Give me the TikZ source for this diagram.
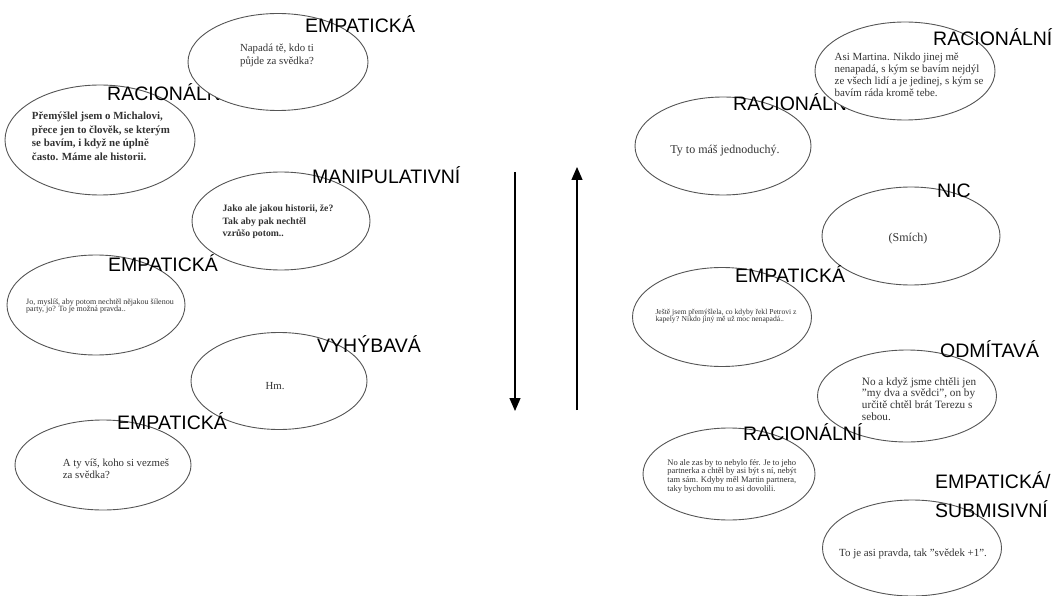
\documentclass[tikz,border=0pt]{standalone}
\usepackage{fontspec}
\setmainfont{Liberation Serif}
\newfontfamily\tagfont{Liberation Sans}
\usetikzlibrary{shapes.geometric,arrows.meta}
\definecolor{bubbleline}{HTML}{555555}
\definecolor{speechgray}{HTML}{333333}
\newcommand{\sz}[2]{\fontsize{#1}{#2}\selectfont}
\newcommand{\dq}{\symbol{34}}

\begin{document}
\begin{tikzpicture}[x=1pt,y=-1pt,
  bubble/.style={ellipse,draw=bubbleline,fill=white,line width=0.9pt,inner sep=0pt},
  speech/.style={text=speechgray,align=left,inner sep=0pt},
  tag/.style={font=\tagfont\sz{19.5}{29},inner sep=0pt,text=black,anchor=base west,align=left},
  flow/.style={line width=1.3pt,-{Triangle[length=13pt,width=11pt]}}]

\useasboundingbox (0,0) rectangle (1060,596);

% ---- left column (read top to bottom) ----
\node[bubble,minimum width=190pt,minimum height=110pt] (l2) at (100,140) {};
\node[speech,font=\bfseries\sz{10.9}{13.5}] (l2t) at (101,136)
  {Přemýšlel jsem o Michalovi,\\přece jen to člověk, se kterým\\se bavím, i když ne úplně\\často. Máme ale historii.};
\node[tag] (l2l) at (107,101) {RACIONÁLNÍ};

\node[bubble,minimum width=180pt,minimum height=97pt] (l1) at (278,62) {};
\node[speech,font=\sz{10.8}{13}] (l1t) at (277,55) {Napadá tě, kdo ti\\půjde za svědka?};
\node[tag] (l1l) at (305,33) {EMPATICKÁ};

\node[bubble,minimum width=178pt,minimum height=98pt] (l3) at (281,221) {};
\node[speech,font=\bfseries\sz{9.7}{12.5}] (l3t) at (278,222)
  {Jako ale jakou historii, že?\\Tak aby pak nechtěl\\vzrůšo potom..};
\node[tag] (l3l) at (312,184) {MANIPULATIVNÍ};

\node[bubble,minimum width=178pt,minimum height=100pt] (l4) at (96,305) {};
\node[speech,font=\sz{8}{7.5}] (l4t) at (100,306)
  {Jo, myslíš, aby potom nechtěl nějakou šílenou\\party, jo? To je možná pravda..};
\node[tag] (l4l) at (108,271) {EMPATICKÁ};

\node[bubble,minimum width=176pt,minimum height=97pt] (l5) at (279,381) {};
\node[speech,font=\sz{10.8}{12}] (l5t) at (275,386) {Hm.};
\node[tag] (l5l) at (317,352) {VYHÝBAVÁ};

\node[bubble,minimum width=176pt,minimum height=90pt] (l6) at (103,465) {};
\node[speech,font=\sz{10.8}{12.5}] (l6t) at (116,469) {A ty víš, koho si vezmeš\\za svědka?};
\node[tag] (l6l) at (117,429) {EMPATICKÁ};

% ---- arrows between the columns ----
\coordinate (dtop) at (515,172);
\coordinate (dbot) at (515,411);
\coordinate (ubot) at (577,410);
\coordinate (utop) at (577,167);
\draw[flow] (dtop) -- (dbot);
\draw[flow] (ubot) -- (utop);

% ---- right column ----
\node[bubble,minimum width=176pt,minimum height=98pt] (r2) at (723,146) {};
\node[speech,font=\sz{12}{13}] (r2t) at (725,151) {Ty to máš jednoduchý.};
\node[tag] (r2l) at (733,111) {RACIONÁLNÍ};

\node[bubble,minimum width=180pt,minimum height=98pt] (r1) at (905,71) {};
\node[speech,font=\sz{10.9}{12}] (r1t) at (909,75)
  {Asi Martina. Nikdo jinej mě\\nenapadá, s kým se bavím nejdýl\\ze všech lidí a je jedinej, s kým se\\bavím ráda kromě tebe.};
\node[tag] (r1l) at (933,46) {RACIONÁLNÍ};

\node[bubble,minimum width=178pt,minimum height=98pt] (r3) at (911,236) {};
\node[speech,font=\sz{12}{13}] (r3t) at (908,239) {(Smích)};
\node[tag] (r3l) at (937,198) {NIC};

\node[bubble,minimum width=179pt,minimum height=99pt] (r4) at (722,317) {};
\node[speech,font=\sz{7.6}{7.2}] (r4t) at (726,316)
  {Ještě jsem přemýšlela, co kdyby řekl Petrovi z\\kapely? Nikdo jiný mě už moc nenapadá..};
\node[tag] (r4l) at (735,282) {EMPATICKÁ};

\node[bubble,minimum width=179pt,minimum height=92pt] (r5) at (907,396) {};
\node[speech,font=\sz{11.2}{11.8}] (r5t) at (919,399)
  {No a když jsme chtěli jen\\\dq my dva a svědci\dq, on by\\určitě chtěl brát Terezu s\\sebou.};
\node[tag] (r5l) at (940,357) {ODMÍTAVÁ};

\node[bubble,minimum width=172pt,minimum height=92pt] (r6) at (729,474) {};
\node[speech,font=\sz{8.5}{8.7}] (r6t) at (732,476)
  {No ale zas by to nebylo fér. Je to jeho\\partnerka a chtěl by asi být s ní, nebýt\\tam sám. Kdyby měl Martin partnera,\\taky bychom mu to asi dovolili.};
\node[tag] (r6l) at (743,440) {RACIONÁLNÍ};

\node[bubble,minimum width=179pt,minimum height=96pt] (r7) at (912,548) {};
\node[speech,font=\sz{10.9}{12}] (r7t) at (913,554) {To je asi pravda, tak \dq svědek +1\dq.};
\node[tag] (r7l) at (935,517) {EMPATICKÁ/\\SUBMISIVNÍ};

\end{tikzpicture}
\end{document}
